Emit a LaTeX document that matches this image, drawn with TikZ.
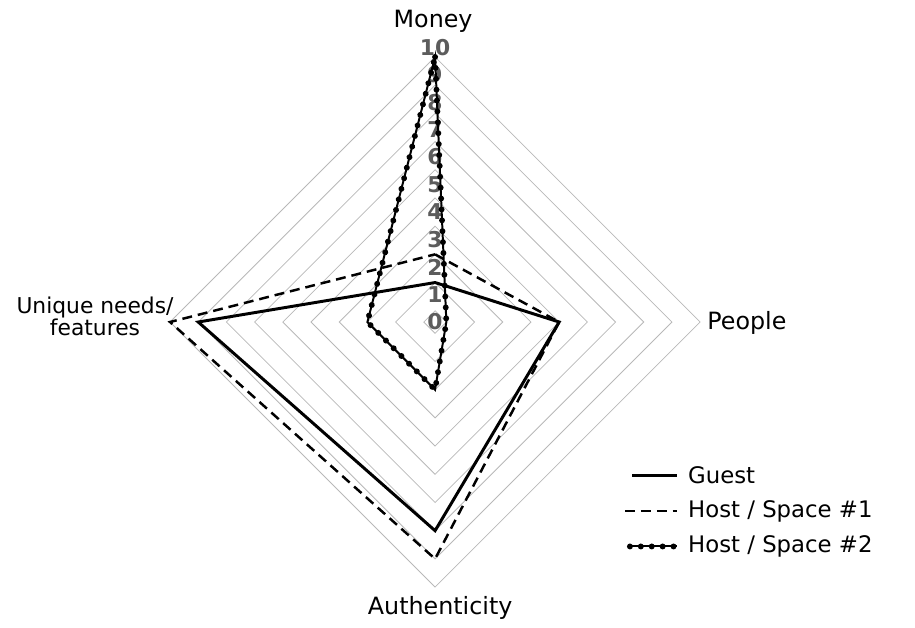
\documentclass[tikz,border=0pt]{standalone}
\usepackage{fontspec}
\setmainfont{DejaVu Sans}
\usetikzlibrary{decorations.markings}
\definecolor{gridgray}{gray}{0.72}
\definecolor{tickgray}{gray}{0.36}
\tikzset{
  ring/.style={draw=gridgray, line width=0.8pt},
  guest/.style={line width=3pt},
  hostone/.style={line width=2.5pt, dash pattern=on 10pt off 6pt},
  hosttwo/.style={line width=2pt, postaction={decorate},
    decoration={markings, mark=between positions 0 and 1 step 11pt with {\fill (0,0) circle (3pt);}}},
  axislabel/.style={font=\fontsize{24}{26}\selectfont, inner sep=0pt},
  ticklabel/.style={font=\fontsize{22}{24}\selectfont\bfseries, text=tickgray, inner sep=0pt},
  legendtext/.style={font=\fontsize{23}{25}\selectfont, anchor=base west, inner sep=0pt},
}
\begin{document}
\begin{tikzpicture}
    \useasboundingbox (-15.43,-10.82) rectangle (17.02,11.42);
    % grid rings
    \foreach \k [evaluate=\k as \r using \k+0.4] in {0,...,9}
        \draw[ring] (\r,0) -- (0,\r) -- (-\r,0) -- (0,-\r) -- cycle;
    % scale on the money axis
    \foreach \v in {0,...,10}
        \node[ticklabel] (tick\v) at (0,{0.975*\v}) {\v};
    % axis names
    \node[axislabel, anchor=base] (money) at (-0.07,10.43) {Money};
    \node[axislabel, anchor=base west] (people) at (9.65,-0.28) {People};
    \node[axislabel, anchor=base] (authenticity) at (0.18,-10.39) {Authenticity};
    \node[axislabel, font=\fontsize{22}{20}\selectfont, align=center] (unique) at (-12.06,0.2) {Unique needs/\\features};
    % guest
    \coordinate (g-money) at (90:1.4);
    \coordinate (g-people) at (0:4.4);
    \coordinate (g-auth) at (270:7.4);
    \coordinate (g-unique) at (180:8.4);
    \draw[guest] (g-money) -- (g-people) -- (g-auth) -- (g-unique) -- cycle;
    % host / space 1
    \coordinate (h-money) at (90:2.4);
    \coordinate (h-people) at (0:4.4);
    \coordinate (h-auth) at (270:8.4);
    \coordinate (h-unique) at (180:9.4);
    \draw[hostone] (h-money) -- (h-people) -- (h-auth) -- (h-unique) -- cycle;
    % host / space 2
    \coordinate (s-money) at (90:9.4);
    \coordinate (s-people) at (0:0.4);
    \coordinate (s-auth) at (270:2.4);
    \coordinate (s-unique) at (180:2.4);
    \draw[hosttwo] (s-money) -- (s-people) -- (s-auth) -- (s-unique) -- cycle;
    % legend
    \node[legendtext] (lguest) at (8.97,-5.71) {Guest};
    \node[legendtext] (lhostone) at (8.97,-6.95) {Host / Space \#1};
    \node[legendtext] (lhosttwo) at (8.97,-8.19) {Host / Space \#2};
    \coordinate (kguest) at (6.99,-5.43);
    \coordinate (khostone) at (6.74,-6.70);
    \coordinate (khosttwo) at (6.91,-7.96);
    \draw[guest] (kguest) -- (kguest -| 8.58,0);
    \draw[hostone] (khostone) -- (khostone -| 8.58,0);
    \draw[hosttwo] (khosttwo) -- (khosttwo -| 8.58,0);
\end{tikzpicture}
\end{document}
